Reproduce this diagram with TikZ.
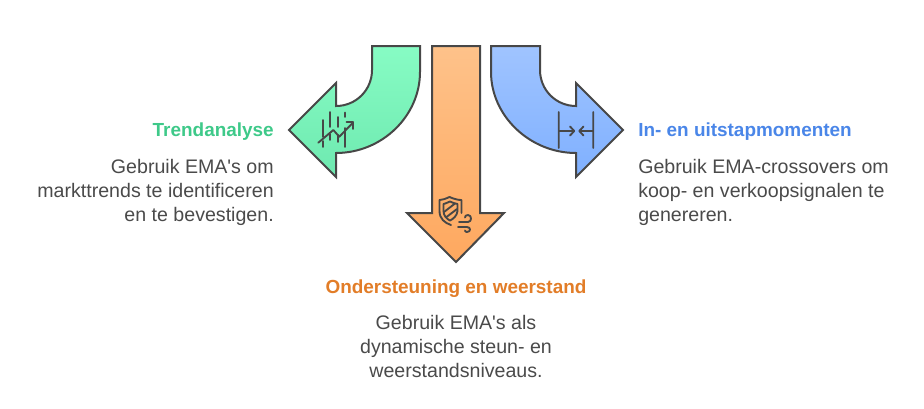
\documentclass[tikz,border=0pt]{standalone}
\usepackage{fontspec}
\setmainfont{Liberation Sans}[Ligatures=TeXOff]
\definecolor{edge}{HTML}{474747}
\definecolor{txt}{HTML}{4A4A4A}
\definecolor{gt}{HTML}{87FCC4}
\definecolor{gb}{HTML}{6EE9B0}
\definecolor{ot}{HTML}{FEC28A}
\definecolor{ob}{HTML}{FEA85F}
\definecolor{bt}{HTML}{A0C4FF}
\definecolor{bb}{HTML}{7FB0FF}
\definecolor{tgreen}{HTML}{3EC989}
\definecolor{tblue}{HTML}{4A86E8}
\definecolor{torange}{HTML}{E27D28}
\tikzset{
  x=0.75pt,y=-0.75pt,
  arrowshape/.style={draw=edge,line width=1.5pt,line join=miter},
  icon/.style={draw=edge,line width=1.4pt,line cap=round,line join=round},
  body/.style={font=\fontsize{14.7pt}{18pt}\selectfont,text=txt,inner sep=0pt},
  head/.style={font=\fontsize{14.2pt}{18pt}\selectfont\bfseries,inner sep=0pt},
}
\begin{document}
\begin{tikzpicture}
\useasboundingbox (0,0) rectangle (924,408);
% green arrow
\draw[arrowshape,top color=gt,bottom color=gb]
 (372,46) -- (420,46) -- (420,72) .. controls (420,116) and (382,153) .. (336,153)
 -- (336,177) -- (289,130) -- (336,83) -- (336,106)
 .. controls (356,106) and (372,90) .. (372,70) -- cycle;
% orange arrow
\draw[arrowshape,top color=ot,bottom color=ob]
 (432,46) -- (480,46) -- (480,213) -- (504,213) -- (456,262) -- (407,213) -- (432,213) -- cycle;
% blue arrow
\draw[arrowshape,top color=bt,bottom color=bb]
 (540,46) -- (491,46) -- (491,72) .. controls (491,116) and (530,153) .. (576,153)
 -- (576,177) -- (623,130) -- (576,83) -- (576,106)
 .. controls (556,106) and (540,90) .. (540,70) -- cycle;
% trend icon
\draw[icon] (322.7,120) -- (322.7,137) (322.7,141) -- (322.7,147)
 (330,112) -- (330,127) (330,134) -- (330,140)
 (337.7,117) -- (337.7,127) (337.7,135) -- (337.7,142)
 (345.3,112.5) -- (345.3,117) (345.3,128) -- (345.3,147);
\draw[icon] (318.3,142.7) -- (333.3,130) -- (339.3,136.7) -- (353.3,122.3);
\draw[icon] (346.5,122.3) -- (353.3,122.3) -- (353.3,129);
% resize icon
\draw[icon] (558.7,112) -- (558.7,148) (593.3,112) -- (593.3,148)
 (558.7,131) -- (574,131) (570,126.5) -- (574.3,131) -- (570,135.5)
 (593.3,131) -- (579.5,131) (583.5,126.5) -- (579.3,131) -- (583.5,135.5);
% shield icon
\draw[icon] (449.5,197) .. controls (445,199) and (442,200) .. (439.5,200)
 -- (439.5,211) .. controls (439.5,219) and (445,223) .. (451,225);
\draw[icon] (449.5,197) .. controls (454,199) and (458,200) .. (461.5,200) -- (461.5,213);
\draw[icon] (450,201.5) .. controls (447,203) and (445,203.5) .. (443.5,204)
 -- (443.5,211) .. controls (443.5,216) and (447,219) .. (450,220.5)
 .. controls (453,219) and (457,216) .. (457.5,211) -- (457.5,204)
 .. controls (455,203.5) and (453,203) .. (450,201.5) -- cycle;
\draw[icon] (444,212) -- (455,203.5) (446.5,217) -- (457,209);
\draw[icon] (459,222) -- (468,222) .. controls (472,222) and (472,215) .. (468,215) .. controls (466,215) and (465,216) .. (465,217.5);
\draw[icon] (458,227) -- (467,227) .. controls (471,227) and (471,232) .. (467,232) .. controls (466,232) and (465,231.5) .. (465,230.5);
% texts
\node[head,anchor=east,text=tgreen] (t1) at (274,132) {Trendanalyse};
\node[body,anchor=north east,align=right] (b1) at (274,159) {Gebruik EMA's om\\markttrends te identificeren\\en te bevestigen.};
\node[head,anchor=west,text=tblue] (t3) at (638,132) {In- en uitstapmomenten};
\node[body,anchor=north west,align=left] (b3) at (638,159) {Gebruik EMA-crossovers om\\koop- en verkoopsignalen te\\genereren.};
\node[head,anchor=center,text=torange] (t2) at (456,289) {Ondersteuning en weerstand};
\node[body,anchor=north,align=center] (b2) at (456,315) {Gebruik EMA's als\\dynamische steun- en\\weerstandsniveaus.};
\end{tikzpicture}
\end{document}
